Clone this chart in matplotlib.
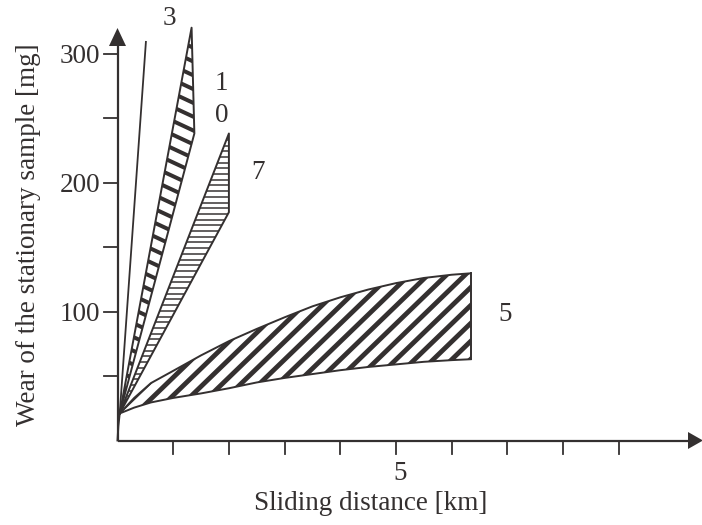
import numpy as np
import matplotlib
matplotlib.use("Agg")
import matplotlib.pyplot as plt
from matplotlib.patches import Polygon

# ---------------- data ----------------
x_ticks = [1, 2, 3, 4, 5, 6, 7, 8, 9]
x_tick_labels = {5: "5"}
y_ticks = [50, 100, 150, 200, 250, 300]
y_tick_labels = {100: "100", 200: "200", 300: "300"}

origin_curve_x = [0.0, 0.015, 0.04]
origin_curve_y = [0.0, 11.0, 21.0]

# line "3"
line3_x = [0.04, 0.51]
line3_y = [21.0, 309.0]

# band "10"
band10_x = [0.04, 1.33, 1.38, 0.04]
band10_y = [21.0, 320.0, 238.0, 21.0]

# band "7"
band7_x = [0.04, 2.0, 2.0, 0.04]
band7_y = [21.0, 238.0, 177.0, 21.0]

# band "5"
band5_x = [0.04, 0.3, 0.6, 1.0, 1.5, 2.0, 2.5, 3.0, 3.5, 4.0, 4.5, 5.0, 5.5, 6.0, 6.34]
band5_upper = [21, 33, 44.5, 54, 66, 77, 86.5, 95.5, 104, 111, 117, 122, 126, 128.5, 129.6]
band5_lower = [21, 25.5, 29.5, 33, 36.5, 40.5, 45, 48.5, 51.5, 54.5, 57, 59, 61, 62.3, 63]

labels = ["3", "1", "0", "7", "5"]
label_x = [0.93, 1.87, 1.87, 2.53, 6.96]
label_y = [327.5, 277.0, 252.3, 208.0, 97.3]

# ---------------- layout ----------------
W, H = 702, 525
X0, SX = 117.5, 55.7      # pixel of x=0, pixels per km
Y0, SY = 440.5, 1.29      # pixel (from top) of y=0, pixels per mg

C = "#343030"
FONT = "Liberation Serif"
FS = 19.5

fig = plt.figure(figsize=(W / 100, H / 100), dpi=100)
ax = fig.add_axes([0, 0, 1, 1])
ax.set_xlim(-X0 / SX, (W - X0) / SX)
ax.set_ylim(-(H - Y0) / SY, Y0 / SY)
ax.axis("off")

def px2x(p):
    return (p - X0) / SX

def py2y(p):
    return (Y0 - p) / SY

# axes with arrows
ytop_line = py2y(46)
ax.plot([0, 0], [0, ytop_line], color=C, lw=1.6, solid_capstyle="butt")
ax.fill([-8.5 / SX, 8.5 / SX, 0], [ytop_line, ytop_line, py2y(28)], color=C, lw=0)
xr_line = px2x(688)
ax.plot([0, xr_line], [0, 0], color=C, lw=1.6, solid_capstyle="butt")
ax.fill([xr_line, xr_line, px2x(703)], [8.5 / SY, -8.5 / SY, 0], color=C, lw=0)

for t in x_ticks:
    ax.plot([t, t], [0, -13 / SY], color=C, lw=1.3)
    if t in x_tick_labels:
        ax.text(t + 0.08, py2y(473), x_tick_labels[t], ha="center", va="center",
                fontsize=FS, family=FONT, color=C)
for t in y_ticks:
    ax.plot([-13.5 / SX, 0], [t, t], color=C, lw=1.3)
    if t in y_tick_labels:
        ax.text(px2x(100), t, y_tick_labels[t], ha="right", va="center_baseline",
                fontsize=FS, family=FONT, color=C)

ax.text(px2x(371), py2y(503), "Sliding distance [km]", ha="center", va="center",
        fontsize=FS, family=FONT, color=C)
ax.text(px2x(29), py2y(235), "Wear of the stationary sample [mg]", ha="center",
        va="center", rotation=90, fontsize=FS, family=FONT, color=C)

# --------- custom hatching ----------
def hatch(xs, ys, angle_deg, spacing_px, lw_px):
    pts = ax.transData.transform(np.column_stack([xs, ys]))
    poly = Polygon(np.column_stack([xs, ys]), closed=True, transform=ax.transData,
                   facecolor="none", edgecolor="none")
    ax.add_patch(poly)
    th = np.deg2rad(angle_deg)
    d = np.array([np.cos(th), np.sin(th)])
    n = np.array([-np.sin(th), np.cos(th)])
    proj = pts @ n
    c = pts.mean(axis=0)
    L = np.ptp(pts[:, 0]) + np.ptp(pts[:, 1]) + 50
    inv = ax.transData.inverted()
    for off in np.arange(proj.min() - spacing_px, proj.max() + spacing_px, spacing_px):
        base = c + n * (off - c @ n)
        p1 = base - d * L
        p2 = base + d * L
        q = inv.transform(np.array([p1, p2]))
        ln, = ax.plot(q[:, 0], q[:, 1], color=C, lw=lw_px * 0.72,
                      solid_capstyle="butt")
        ln.set_clip_path(poly)

# band 5
b5x = list(band5_x) + list(band5_x[::-1])
b5y = list(band5_upper) + list(band5_lower[::-1])
hatch(b5x, b5y, 44, 12.9, 4.8)
ax.plot(band5_x, band5_upper, color=C, lw=1.4)
ax.plot(band5_x, band5_lower, color=C, lw=1.4)
ax.plot([band5_x[-1], band5_x[-1]], [band5_lower[-1], band5_upper[-1]], color=C, lw=1.4)

# band 7
hatch(band7_x, band7_y, 0, 5.7, 1.5)
ax.plot(band7_x, band7_y, color=C, lw=1.4)

# band 10
hatch(band10_x, band10_y, -25, 12.5, 4.0)
ax.plot(band10_x, band10_y, color=C, lw=1.4)

# line 3
ax.plot(line3_x, line3_y, color=C, lw=1.3)
ax.plot(origin_curve_x, origin_curve_y, color=C, lw=1.4)

for s, lx, ly in zip(labels, label_x, label_y):
    ax.text(lx, ly, s, ha="center", va="center", fontsize=FS, family=FONT, color=C)

fig.savefig("out.png", dpi=100)
